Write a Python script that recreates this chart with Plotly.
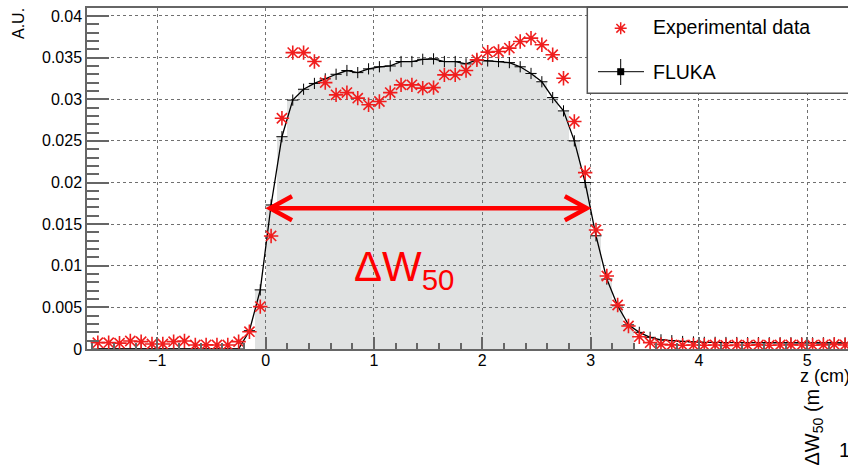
import numpy as np
import plotly.graph_objects as go

# Depth positions (bin centres, cm)
z = np.round(np.arange(-1.55, 5.36, 0.1), 2)

# Measured depth-dose profile (arbitrary units)
exp_data = [
    0.00076, 0.00076, 0.00070, 0.00096, 0.00088, 0.00060, 0.00060, 0.00088,
    0.00096, 0.00048, 0.00050, 0.00048, 0.00048, 0.00088, 0.00208, 0.00509,
    0.01358, 0.02772, 0.03560, 0.03560, 0.03453, 0.03200, 0.03053, 0.03080,
    0.03013, 0.02933, 0.02973, 0.03080, 0.03173, 0.03173, 0.03133, 0.03140,
    0.03293, 0.03293, 0.03345, 0.03473, 0.03566, 0.03573, 0.03614, 0.03693,
    0.03734, 0.03654, 0.03534, 0.03253, 0.02732, 0.02119, 0.01430, 0.00877,
    0.00529, 0.00276, 0.00148, 0.00076,
    0.00055, 0.00050, 0.00045, 0.00048, 0.00045, 0.00048, 0.00042, 0.00048,
    0.00045, 0.00050, 0.00045, 0.00048, 0.00050, 0.00048, 0.00045, 0.00050,
    0.00055, 0.00048,
]

# FLUKA simulation (arbitrary units)
fluka = [
    0, 0, 0, 0, 0, 0, 0, 0, 0, 0, 0, 0, 0, 0,
    0.0022, 0.0071,
    0.0173, 0.0255, 0.0299, 0.0312, 0.0319, 0.03245, 0.0330, 0.03345,
    0.0332, 0.03365, 0.0339, 0.0340, 0.03453, 0.03453, 0.0348, 0.03485,
    0.03453, 0.03453, 0.03425, 0.03473, 0.0346, 0.03453, 0.0344, 0.0339,
    0.0331, 0.0321, 0.0302, 0.0286, 0.0250, 0.0200, 0.0136, 0.0084,
    0.0052, 0.0029, 0.0020, 0.0014, 0.0011, 0.0010, 0.0009,
    0.00085, 0.0008, 0.0008, 0.00078, 0.00078, 0.00076, 0.00076, 0.00075,
    0.00075, 0.00075, 0.00074, 0.00074, 0.00074, 0.00073, 0.00073,
]

# Bins of the FLUKA histogram that are shaded
fill_range = (-0.1, 3.4)
# 50 % width marker
w50_z = (0.04, 2.965)
w50_level = 0.0169

x_ticks = [-1, 0, 1, 2, 3, 4, 5]

X_RANGE = [-1.65, 5.377]
Y_RANGE = [0.0, 0.04096]

W, H = 848, 469
ML, MT, MB = 87, 8, 120
PW, PH = W - ML, H - MT - MB

FONT = "Liberation Sans, Arial, Helvetica, sans-serif"
RED = "#f01e1e"
AXC = "#666666"


def px(x):
    return (x - ML) / PW


def py(y):
    return (MT + PH - y) / PH


z_arr = np.asarray(z)
f_arr = np.asarray(fluka)
mask = (z_arr > fill_range[0]) & (z_arr < fill_range[1])

fig = go.Figure()

fig.add_trace(go.Bar(
    x=z_arr[mask], y=f_arr[mask], width=0.1,
    marker=dict(color="rgba(115,125,125,0.22)", line=dict(width=0)),
    hoverinfo="skip",
))

fig.add_trace(go.Scatter(
    x=z, y=fluka, mode="lines+markers", name="FLUKA",
    line=dict(color="black", width=1.3),
    marker=dict(symbol="cross-thin", size=8, color="black",
                line=dict(color="black", width=1)),
))

fig.add_trace(go.Scatter(
    x=z, y=exp_data, mode="markers", name="Experimental data",
    marker=dict(symbol="asterisk-open", size=12, color=RED,
                line=dict(color=RED, width=1.6)),
))

axis_common = dict(
    ticks="inside", tickcolor=AXC, tickwidth=1.5,
    showline=True, linecolor=AXC, linewidth=1.5,
    showgrid=True, gridcolor="#707070", griddash="dot", gridwidth=1,
    zeroline=False, layer="above traces",
    tickfont=dict(family=FONT, size=16, color="black"),
)

fig.update_xaxes(
    range=X_RANGE, tickvals=x_ticks, ticklen=12, mirror=True,
    ticklabelstandoff=-4,
    minor=dict(dtick=0.2, tick0=0, ticks="inside", ticklen=6,
               tickcolor=AXC, tickwidth=1.5, showgrid=False),
    **axis_common,
)
fig.update_yaxes(
    range=Y_RANGE, dtick=0.005, tick0=0, ticklen=22, mirror=False,
    minor=dict(dtick=0.001, tick0=0, ticks="inside", ticklen=12,
               tickcolor=AXC, tickwidth=1.5, showgrid=False),
    **axis_common,
)

# Double-headed arrow marking the 50 % width
sx = (X_RANGE[1] - X_RANGE[0]) / PW
sy = (Y_RANGE[1] - Y_RANGE[0]) / PH
hb, hh = 22, 12
xa, xb = w50_z
yl = w50_level
shapes = [
    dict(type="line", xref="x", yref="y", x0=xa, x1=xb, y0=yl, y1=yl,
         line=dict(color="#ff0000", width=4.5), layer="above"),
    dict(type="path", xref="x", yref="y", layer="above",
         path=f"M{xa + hb * sx},{yl + hh * sy} L{xa},{yl} L{xa + hb * sx},{yl - hh * sy}",
         line=dict(color="#ff0000", width=4.5)),
    dict(type="path", xref="x", yref="y", layer="above",
         path=f"M{xb - hb * sx},{yl + hh * sy} L{xb},{yl} L{xb - hb * sx},{yl - hh * sy}",
         line=dict(color="#ff0000", width=4.5)),
]

# Legend box and keys
shapes.append(dict(type="rect", xref="paper", yref="paper",
                   x0=px(587.3), x1=px(880), y0=py(93.3), y1=py(7.3),
                   line=dict(color="#555555", width=1.5), fillcolor="white",
                   layer="above"))
cx, cy, r = 620.7, 28.3, 6
star = (f"M{px(cx - r)},{py(cy)} L{px(cx + r)},{py(cy)} "
        f"M{px(cx)},{py(cy - r)} L{px(cx)},{py(cy + r)} "
        f"M{px(cx - r * 0.72)},{py(cy - r * 0.72)} L{px(cx + r * 0.72)},{py(cy + r * 0.72)} "
        f"M{px(cx - r * 0.72)},{py(cy + r * 0.72)} L{px(cx + r * 0.72)},{py(cy - r * 0.72)}")
shapes.append(dict(type="path", xref="paper", yref="paper", path=star,
                   line=dict(color=RED, width=1.5), layer="above"))
fy = 71.7
shapes += [
    dict(type="line", xref="paper", yref="paper", x0=px(598), x1=px(644),
         y0=py(fy), y1=py(fy), line=dict(color="black", width=1), layer="above"),
    dict(type="line", xref="paper", yref="paper", x0=px(cx), x1=px(cx),
         y0=py(59), y1=py(85), line=dict(color="black", width=1), layer="above"),
    dict(type="rect", xref="paper", yref="paper", x0=px(cx - 3.5), x1=px(cx + 3.5),
         y0=py(fy + 3.5), y1=py(fy - 3.5), fillcolor="black",
         line=dict(color="black", width=0), layer="above"),
]

annotations = [
    dict(text="Experimental data", xref="paper", yref="paper", x=px(651), y=py(27.3),
         xanchor="left", yanchor="middle", showarrow=False,
         font=dict(family=FONT, size=19.5, color="black")),
    dict(text="FLUKA", xref="paper", yref="paper", x=px(651), y=py(72),
         xanchor="left", yanchor="middle", showarrow=False,
         font=dict(family=FONT, size=19.5, color="black")),
    dict(text="A.U.", xref="paper", yref="paper", x=px(18.5), y=py(23.5),
         xanchor="center", yanchor="middle", textangle=-90, showarrow=False,
         font=dict(family=FONT, size=16, color="black")),
    dict(text="z (cm)", xref="paper", yref="paper", x=px(798), y=py(376),
         xanchor="left", yanchor="middle", showarrow=False,
         font=dict(family=FONT, size=18, color="black")),
    dict(text="ΔW<sub>50</sub> (m", xref="paper", yref="paper", x=px(812.5), y=py(427),
         xanchor="center", yanchor="middle", textangle=-90, showarrow=False,
         font=dict(family=FONT, size=20, color="black")),
    dict(text="1", xref="paper", yref="paper", x=px(837), y=py(450),
         xanchor="left", yanchor="middle", showarrow=False,
         font=dict(family=FONT, size=20, color="black")),
    dict(text="ΔW<sub>50</sub>", xref="x", yref="y", x=0.794, y=0.0096,
         xanchor="left", yanchor="middle", showarrow=False,
         font=dict(family=FONT, size=42, color="#ff0000")),
]

fig.update_layout(
    width=W, height=H,
    margin=dict(l=ML, r=0, t=MT, b=MB, pad=0),
    plot_bgcolor="white", paper_bgcolor="white",
    showlegend=False, bargap=0,
    shapes=shapes, annotations=annotations,
    font=dict(family=FONT),
)

fig.write_html("out.html")
